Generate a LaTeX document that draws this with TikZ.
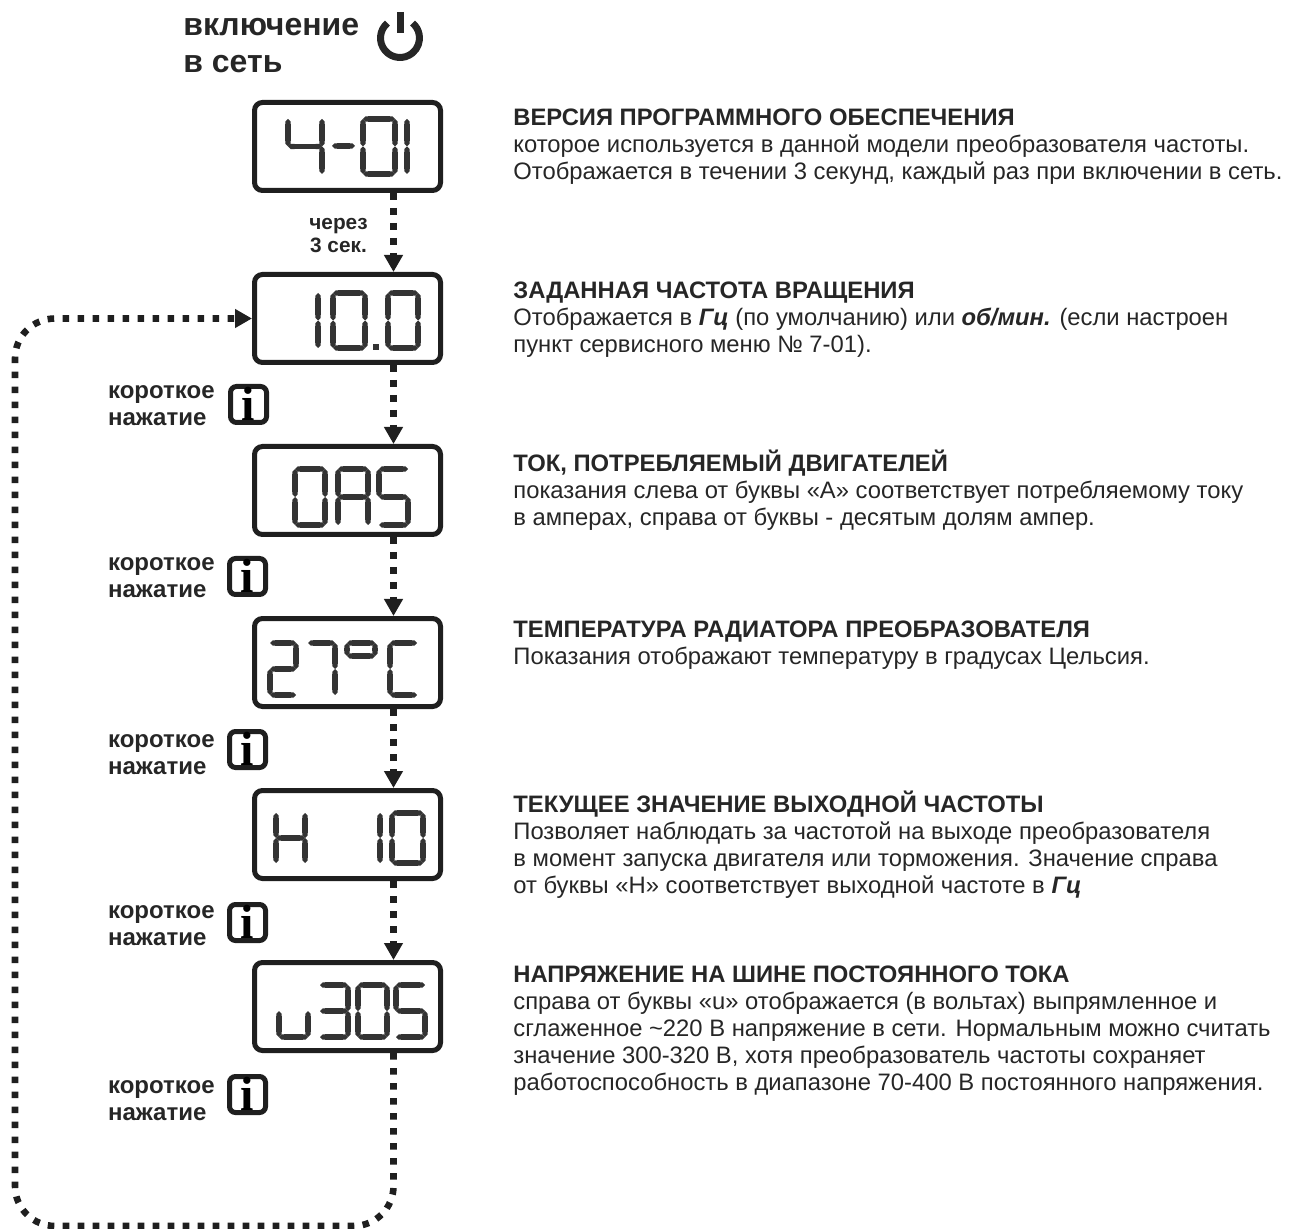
\documentclass[tikz,border=0pt]{standalone}
\usepackage{fontspec}
\setmainfont{Liberation Sans}
\newfontfamily\slabfont{Liberation Serif}
\usetikzlibrary{positioning, arrows.meta}

% segments join the grid points 1 2 / 3 4 / 5 6 of one character cell
\def\lcdzero{1/2,2/4,4/6,5/6,3/5,1/3}
\def\lcdone{2/4,4/6}
\def\lcdtwo{1/2,2/4,3/4,3/5,5/6}
\def\lcdthree{1/2,2/4,3/4,4/6,5/6}
\def\lcdfour{1/3,3/4,2/4,4/6}
\def\lcdfive{1/2,1/3,3/4,4/6,5/6}
\def\lcdseven{1/2,2/4,4/6}
\def\lcdA{1/2,1/3,2/4,3/4,3/5,4/6}
\def\lcdH{1/3,3/5,2/4,4/6,3/4}
\def\lcdC{1/2,1/3,3/5,5/6}
\def\lcddeg{1/2,1/3,2/4,3/4}
\def\lcdu{3/5,5/6,4/6}
\def\lcdminus{3/4}
\newcommand{\lcdchar}[5]{%
  \coordinate (p1) at (#1,#2);
  \coordinate (p2) at (#1+#3,#2);
  \coordinate (p3) at (#1,#2+#4/2);
  \coordinate (p4) at (#1+#3,#2+#4/2);
  \coordinate (p5) at (#1,#2+#4);
  \coordinate (p6) at (#1+#3,#2+#4);
  \foreach \p/\q in #5 {\draw[seg] (p\p) -- (p\q);}
}

\begin{document}
\begin{tikzpicture}[
  x=0.5pt, y=-0.5pt,
  ink/.style={black!85},
  lcd/.style={draw=black!88, line width=2.5pt, rounded corners=4pt,
              minimum width=93pt, minimum height=44pt, inner sep=0pt},
  seg/.style={line width=2.6pt, black!80,
              {Triangle Cap[cap angle=90]}-{Triangle Cap[cap angle=90]}},
  flow/.style={line width=3.3pt, black!88, dash pattern=on 3.3pt off 4.2pt,
               -{Triangle[length=8.5pt, width=9pt]}},
  btn/.style={draw=black!88, line width=2.5pt, rounded corners=3pt, minimum size=18pt,
              inner sep=0pt, text height=16pt, text depth=0pt,
              font=\slabfont\bfseries\fontsize{24}{24}\selectfont},
  press/.style={ink, align=left, inner sep=0pt, font=\bfseries\fontsize{12}{13.5}\selectfont},
  desc/.style={ink, align=left, inner sep=0pt, font=\fontsize{11.9}{13.5}\selectfont},
]
  \useasboundingbox (0,0) rectangle (1290,1229);

  % --- mains switch-on ---
  \node[ink, anchor=north west, align=left, inner sep=0pt, font=\bfseries\fontsize{16}{18.5}\selectfont]
    (mains) at (183,18) {включение\\в сеть};
  \draw[ink, line width=3.5pt] (400,38) ++(230:19.5) arc[start angle=230, end angle=-50, radius=19.5];
  \draw[ink, line width=3.5pt] (400,12) -- (400,33);

  % --- displays ---
  \node[lcd] (lcd1) at (347.5,146.5) {};
  \node[lcd, below=39.5pt of lcd1] (lcd2) {};
  \node[lcd, below=39.5pt of lcd2] (lcd3) {};
  \node[lcd, below=39.5pt of lcd3] (lcd4) {};
  \node[lcd, below=39.5pt of lcd4] (lcd5) {};
  \node[lcd, below=39.5pt of lcd5] (lcd6) {};

  % --- display contents ---
  \lcdchar{288}{119}{34}{55}{\lcdfour}
  \lcdchar{332}{146}{23}{0}{\lcdminus}
  \lcdchar{363}{119}{32}{55}{\lcdzero}
  \lcdchar{407}{119}{0}{55}{\lcdone}

  \lcdchar{318}{293}{0}{55}{\lcdone}
  \lcdchar{333}{293}{32}{55}{\lcdzero}
  \fill[black!80] (373,344) rectangle (379,350);
  \lcdchar{388}{293}{30}{55}{\lcdzero}

  \lcdchar{295}{469}{30}{56}{\lcdzero}
  \lcdchar{338}{469}{30}{56}{\lcdA}
  \lcdchar{379}{469}{29}{56}{\lcdfive}

  \lcdchar{270}{643}{26}{52}{\lcdtwo}
  \lcdchar{308}{643}{27}{52}{\lcdseven}
  \lcdchar{347}{643}{28}{26}{\lcddeg}
  \lcdchar{390}{643}{27}{52}{\lcdC}

  \lcdchar{276}{813}{29}{50}{\lcdH}
  \lcdchar{380}{813}{0}{50}{\lcdone}
  \lcdchar{392}{813}{31}{50}{\lcdzero}

  \lcdchar{279}{985}{29}{52}{\lcdu}
  \lcdchar{320}{985}{28}{52}{\lcdthree}
  \lcdchar{358}{985}{29}{52}{\lcdzero}
  \lcdchar{396}{985}{29}{52}{\lcdfive}

  % --- flow down the displays ---
  \coordinate (portx) at (393.5,0);
  \coordinate (retcorner) at (15,1226);
  \draw[flow] (portx |- lcd1.south) -- (portx |- lcd2.north);
  \draw[flow] (portx |- lcd2.south) -- (portx |- lcd3.north);
  \draw[flow] (portx |- lcd3.south) -- (portx |- lcd4.north);
  \draw[flow] (portx |- lcd4.south) -- (portx |- lcd5.north);
  \draw[flow] (portx |- lcd5.south) -- (portx |- lcd6.north);
  \draw[flow, rounded corners=20pt] (portx |- lcd6.south) -- (portx |- retcorner)
    -- (retcorner) -- (retcorner |- lcd2.west) -- (lcd2.west);

  \node[ink, align=center, inner sep=0pt, font=\bfseries\fontsize{10.4}{11.5}\selectfont,
        below=12.5pt of lcd1, xshift=-4.5pt] (wait) {через\\3 сек.};

  % --- short press of the i button ---
  \node[btn, below=9.5pt of lcd2, xshift=-49.5pt] (btn1) {i};
  \node[btn, below=9.5pt of lcd3, xshift=-50pt] (btn2) {i};
  \node[btn, below=10pt of lcd4, xshift=-50pt] (btn3) {i};
  \node[btn, below=10.5pt of lcd5, xshift=-50pt] (btn4) {i};
  \node[btn, below=10.5pt of lcd6, xshift=-50pt] (btn5) {i};
  \node[press, left=6.5pt of btn1, yshift=-0.75pt] (press1) {короткое\\нажатие};
  \node[press, left=6pt of btn2, yshift=-0.75pt] (press2) {короткое\\нажатие};
  \node[press, left=6pt of btn3, yshift=-2.75pt] (press3) {короткое\\нажатие};
  \node[press, left=6pt of btn4, yshift=-1.75pt] (press4) {короткое\\нажатие};
  \node[press, left=6pt of btn5, yshift=-3pt] (press5) {короткое\\нажатие};

  % --- descriptions ---
  \node[desc, below right=4pt and 35pt of lcd1.north east] (desc1)
    {\textbf{ВЕРСИЯ ПРОГРАММНОГО ОБЕСПЕЧЕНИЯ}\\
     которое используется в данной модели преобразователя частоты.\\
     Отображается в течении 3 секунд, каждый раз при включении в сеть.};
  \node[desc, below right=4.5pt and 35pt of lcd2.north east] (desc2)
    {\textbf{ЗАДАННАЯ ЧАСТОТА ВРАЩЕНИЯ}\\
     Отображается в \textbf{\textit{Гц}} (по умолчанию) или \textbf{\textit{об/мин.}} (если настроен\\
     пункт сервисного меню № 7-01).};
  \node[desc, below right=2.75pt and 35pt of lcd3.north east] (desc3)
    {\textbf{ТОК, ПОТРЕБЛЯЕМЫЙ ДВИГАТЕЛЕЙ}\\
     показания слева от буквы «А» соответствует потребляемому току\\
     в амперах, справа от буквы - десятым долям ампер.};
  \node[desc, below right=2pt and 35pt of lcd4.north east] (desc4)
    {\textbf{ТЕМПЕРАТУРА РАДИАТОРА ПРЕОБРАЗОВАТЕЛЯ}\\
     Показания отображают температуру в градусах Цельсия.};
  \node[desc, below right=1.5pt and 35pt of lcd5.north east] (desc5)
    {\textbf{ТЕКУЩЕЕ ЗНАЧЕНИЕ ВЫХОДНОЙ ЧАСТОТЫ}\\
     Позволяет наблюдать за частотой на выходе преобразователя\\
     в момент запуска двигателя или торможения. Значение справа\\
     от буквы «Н» соответствует выходной частоте в \textbf{\textit{Гц}}};
  \node[desc, below right=2.5pt and 35pt of lcd6.north east] (desc6)
    {\textbf{НАПРЯЖЕНИЕ НА ШИНЕ ПОСТОЯННОГО ТОКА}\\
     справа от буквы «u» отображается (в вольтах) выпрямленное и\\
     сглаженное \textasciitilde220 В напряжение в сети. Нормальным можно считать\\
     значение 300-320 В, хотя преобразователь частоты сохраняет\\
     работоспособность в диапазоне 70-400 В постоянного напряжения.};
\end{tikzpicture}
\end{document}
